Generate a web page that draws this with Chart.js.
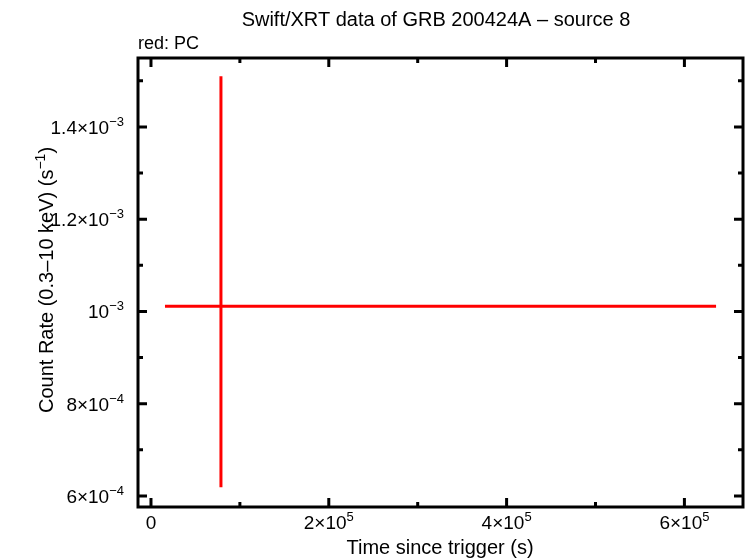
<!DOCTYPE html>
<html>
<head>
<meta charset="utf-8">
<script src="https://cdn.jsdelivr.net/npm/chart.js@4"></script>
<style>
  html, body { margin: 0; padding: 0; background: #fff; }
  #wrap { width: 746px; height: 558px; }
</style>
</head>
<body>
<div id="wrap"><canvas id="lc"></canvas></div>
<script>
// light curve point (PC mode) with error bars
const time = [78700];
const timeLo = [15750];
const timeHi = [635600];
const rate = [1.0115e-3];
const rateLo = [6.19e-4];
const rateHi = [1.51e-3];

// axis ticks
const xTicks = [0, 200000, 400000, 600000];
const xTickBase = ['0', '2×10', '4×10', '6×10'];
const xTickExp = ['', '5', '5', '5'];
const xMinor = [100000, 300000, 500000];
const yTicks = [6e-4, 8e-4, 1e-3, 1.2e-3, 1.4e-3];
const yTickBase = ['6×10', '8×10', '10', '1.2×10', '1.4×10'];
const yTickExp = ['−4', '−4', '−3', '−3', '−3'];
const yMinor = [7e-4, 9e-4, 1.1e-3, 1.3e-3, 1.5e-3];

const FONT = '"Liberation Sans", Arial, Helvetica, sans-serif';

const hSeg = time.flatMap((t, i) => [{x: timeLo[i], y: rate[i]}, {x: timeHi[i], y: rate[i]}, {x: t, y: null}]);
const vSeg = time.flatMap((t, i) => [{x: t, y: rateLo[i]}, {x: t, y: rateHi[i]}, {x: t, y: null}]);

// text with a superscript part
function supText(ctx, base, exp, x, y, align, size) {
  ctx.font = size + 'px ' + FONT;
  const bw = ctx.measureText(base).width;
  ctx.font = Math.round(size * 0.7) + 'px ' + FONT;
  const ew = exp ? ctx.measureText(exp).width : 0;
  const total = bw + ew;
  let x0 = x;
  if (align === 'center') x0 = x - total / 2;
  if (align === 'right') x0 = x - total;
  ctx.textAlign = 'left';
  ctx.textBaseline = 'alphabetic';
  ctx.font = size + 'px ' + FONT;
  ctx.fillText(base, x0, y);
  if (exp) {
    ctx.font = Math.round(size * 0.7) + 'px ' + FONT;
    ctx.fillText(exp, x0 + bw, y - size * 0.42);
  }
}

const frame = {
  id: 'frame',
  afterDatasetsDraw(chart) {
    const {ctx, chartArea: a, scales: {x, y}} = chart;
    ctx.save();
    ctx.strokeStyle = '#000';
    ctx.fillStyle = '#000';
    ctx.lineWidth = 3;
    ctx.strokeRect(a.left, a.top, a.right - a.left, a.bottom - a.top);

    ctx.beginPath();
    const tick = (v, len, axis) => {
      if (axis === 'x') {
        const px = x.getPixelForValue(v);
        ctx.moveTo(px, a.bottom); ctx.lineTo(px, a.bottom - len);
        ctx.moveTo(px, a.top); ctx.lineTo(px, a.top + len);
      } else {
        const py = y.getPixelForValue(v);
        ctx.moveTo(a.left, py); ctx.lineTo(a.left + len, py);
        ctx.moveTo(a.right, py); ctx.lineTo(a.right - len, py);
      }
    };
    xTicks.forEach(v => tick(v, 9, 'x'));
    xMinor.forEach(v => tick(v, 5, 'x'));
    yTicks.forEach(v => tick(v, 9, 'y'));
    yMinor.forEach(v => tick(v, 5, 'y'));
    ctx.stroke();

    xTicks.forEach((v, i) => supText(ctx, xTickBase[i], xTickExp[i], x.getPixelForValue(v), a.bottom + 22, 'center', 19));
    yTicks.forEach((v, i) => supText(ctx, yTickBase[i], yTickExp[i], a.left - 14, y.getPixelForValue(v) + 7, 'right', 19));

    ctx.font = '20px ' + FONT;
    ctx.textAlign = 'center';
    ctx.fillText('Swift/XRT data of GRB 200424A – source 8', 436, 26);
    ctx.font = '18px ' + FONT;
    ctx.textAlign = 'left';
    ctx.fillText('red: PC', a.left, 49);

    ctx.font = '20px ' + FONT;
    ctx.textAlign = 'center';
    ctx.fillText('Time since trigger (s)', 440, 554);

    ctx.translate(53, 280);
    ctx.rotate(-Math.PI / 2);
    ctx.font = '20px ' + FONT;
    const main = 'Count Rate (0.3–10 keV) (s';
    const mw = ctx.measureText(main).width;
    ctx.font = '14px ' + FONT;
    const ew = ctx.measureText('−1').width;
    ctx.font = '20px ' + FONT;
    const cw = ctx.measureText(')').width;
    const x0 = -(mw + ew + cw) / 2;
    ctx.textAlign = 'left';
    ctx.fillText(main, x0, 0);
    ctx.font = '14px ' + FONT;
    ctx.fillText('−1', x0 + mw, -8);
    ctx.font = '20px ' + FONT;
    ctx.fillText(')', x0 + mw + ew, 0);
    ctx.restore();
  }
};

new Chart(document.getElementById('lc'), {
  type: 'line',
  data: {
    datasets: [
      {label: 'PC x', data: hSeg, borderColor: '#ff0000', borderWidth: 3, pointRadius: 0, spanGaps: false, fill: false},
      {label: 'PC y', data: vSeg, borderColor: '#ff0000', borderWidth: 3, pointRadius: 0, spanGaps: false, fill: false}
    ]
  },
  options: {
    responsive: true,
    maintainAspectRatio: false,
    animation: false,
    layout: { padding: { left: 138, top: 58, right: 3, bottom: 51 } },
    scales: {
      x: { type: 'linear', display: false, min: -14600, max: 665900 },
      y: { type: 'linear', display: false, min: 5.76e-4, max: 1.5495e-3 }
    },
    plugins: {
      legend: { display: false },
      tooltip: { enabled: false }
    }
  },
  plugins: [frame]
});
</script>
</body>
</html>
